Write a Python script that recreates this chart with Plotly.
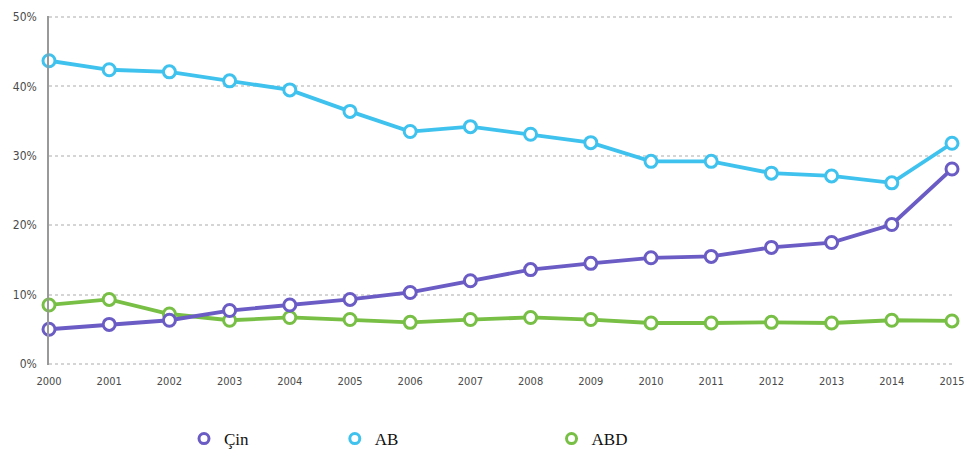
import plotly.graph_objects as go

years = list(range(2000, 2016))
cin = [5.0, 5.7, 6.3, 7.7, 8.5, 9.3, 10.3, 12.0, 13.6, 14.5, 15.3, 15.5, 16.8, 17.5, 20.1, 28.1]
ab = [43.7, 42.4, 42.1, 40.8, 39.5, 36.4, 33.5, 34.2, 33.1, 31.9, 29.2, 29.2, 27.5, 27.1, 26.1, 31.8]
abd = [8.5, 9.3, 7.2, 6.3, 6.7, 6.4, 6.0, 6.4, 6.7, 6.4, 5.9, 5.9, 6.0, 5.9, 6.3, 6.2]
y_ticks = [0, 10, 20, 30, 40, 50]
y_labels = ["0%", "10%", "20%", "30%", "40%", "50%"]

series = [
    ("Çin", cin, "#6a5cc4", "legend"),
    ("AB", ab, "#3fc2ee", "legend2"),
    ("ABD", abd, "#78bf45", "legend3"),
]

fig = go.Figure()
for name, vals, col, leg in [series[2], series[1], series[0]]:
    fig.add_trace(go.Scatter(
        x=years, y=vals, name=name, mode="lines+markers",
        line=dict(color=col, width=3.8),
        marker=dict(symbol="circle", size=12, color="white",
                    line=dict(color=col, width=3)),
        cliponaxis=False, showlegend=False,
    ))
# legend entries: marker-only symbols
for name, vals, col, leg in series:
    fig.add_trace(go.Scatter(
        x=[None], y=[None], name=name, mode="markers",
        marker=dict(symbol="circle", size=10, color="white",
                    line=dict(color=col, width=3)),
        showlegend=True, legend=leg,
    ))

leg_common = dict(orientation="h", yanchor="middle", y=-0.212, xanchor="left",
                  bgcolor="rgba(0,0,0,0)",
                  font=dict(family="Liberation Serif", size=17, color="#111"))

fig.update_layout(
    width=965, height=461,
    margin=dict(l=49, r=13, t=16, b=96, autoexpand=False),
    paper_bgcolor="white", plot_bgcolor="white",
    showlegend=True,
    legend=dict(x=0.1495, **leg_common),
    legend2=dict(x=0.3165, **leg_common),
    legend3=dict(x=0.5565, **leg_common),
    xaxis=dict(range=[2000, 2015], tickmode="array", tickvals=years,
               ticktext=[str(y) for y in years], showgrid=False, automargin=False,
               zeroline=False, showline=False, ticks="", ticklabelstandoff=8,
               tickfont=dict(family="DejaVu Sans Condensed", size=11, color="#4a4a4a")),
    yaxis=dict(range=[-0.15, 50.15], tickmode="array", tickvals=y_ticks, ticktext=y_labels,
               showgrid=True, gridcolor="#d5d5d5", griddash="dot", gridwidth=1.5,
               zeroline=False, showline=True, linecolor="#999", linewidth=1.5,
               ticks="", ticklabelstandoff=8, automargin=False,
               tickfont=dict(family="DejaVu Sans Condensed", size=12, color="#4a4a4a")),
)

fig.write_html("out.html", config={"displayModeBar": False},
               post_script="document.body.style.margin='0';")
